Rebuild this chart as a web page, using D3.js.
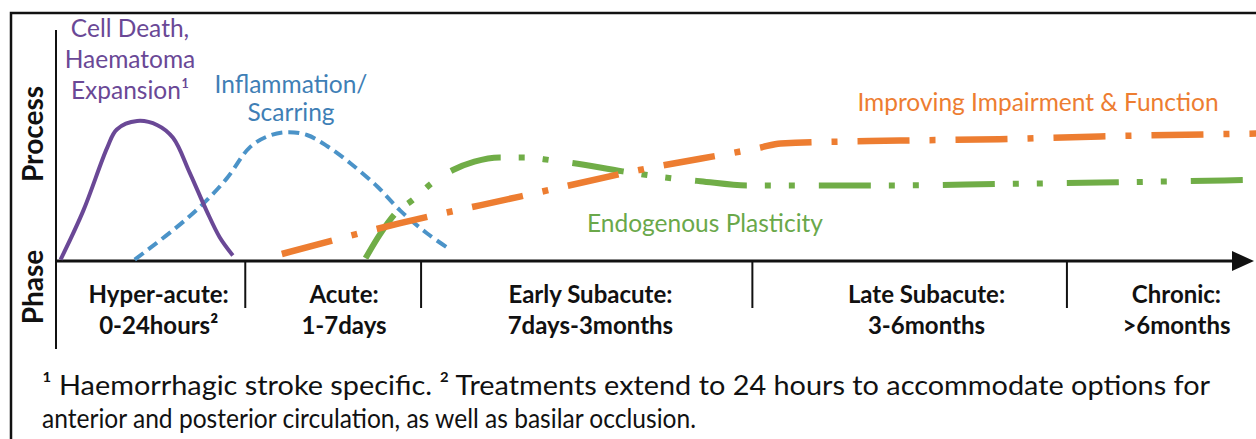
<!DOCTYPE html>
<html lang="en">
  <head>
    <meta charset="utf-8">
    <title>Stroke recovery phases</title>
    <script src="https://d3js.org/d3.v7.min.js"></script>
    <style>
      body { margin: 0; background: #fff; }
      text { font-family: Lato, "Open Sans", sans-serif; }
    </style>
  </head>
  <body>
    <script>

      // timeline position in % of the axis, level 0-100
      var cellDeathT     = [0.3, 2.2, 4.2, 5.0, 6.7, 8.4, 9.7, 11.1, 12.5, 13.6, 14.7];
      var cellDeathLevel = [1, 36, 81, 94, 100, 97, 88, 63, 36, 17, 4];

      var inflamT     = [6.5, 9.7, 12.0, 14.2, 16.1, 17.6, 19.2, 20.9, 22.6, 24.5, 26.8, 28.7, 30.9, 32.9];
      var inflamLevel = [1, 22, 39, 59, 81, 89, 92, 90, 82, 70, 53, 36, 20, 8];

      var plasticityT     = [25.8, 27.0, 28.3, 29.8, 31.4, 33.1, 34.9, 37.0, 39.1, 41.3, 43.1, 47.3, 51.5, 53.8, 57.7, 62.1, 70.5, 78.8, 87.2, 100.3];
      var plasticityLevel = [2, 19, 34, 44, 56, 65, 71, 74, 74, 72, 70, 64, 59, 57, 54, 54, 54, 55, 56, 58];

      var functionT     = [18.8, 28.7, 38.7, 48.7, 58.8, 60.5, 70.5, 78.8, 87.2, 100.3];
      var functionLevel = [5, 27, 46, 65, 81, 84, 86, 87, 89, 91];

      var phaseNames  = ["Hyper-acute:", "Acute:", "Early Subacute:", "Late Subacute:", "Chronic:"];
      var phaseRanges = ["0-24hours\u00B2", "1-7days", "7days-3months", "3-6months", ">6months"];
      var phaseCenters = [8.5, 24.0, 44.6, 72.7, 93.6];
      var phaseBreaks  = [15.7, 30.4, 58.1, 84.4];

      var w = 1256, h = 439;
      var x = d3.scaleLinear().domain([0, 100]).range([57, 1253]);
      var y = d3.scaleLinear().domain([0, 100]).range([261, 121]);

      var svg = d3.select("body").append("svg")
        .attr("width", w)
        .attr("height", h);

      // frame (right and bottom edges are cropped)
      svg.append("path")
        .attr("d", "M11," + h + "V13H" + w)
        .attr("fill", "none")
        .attr("stroke", "#111")
        .attr("stroke-width", 2.5);

      // vertical axis
      svg.append("line")
        .attr("x1", x(0) - 1).attr("x2", x(0) - 1)
        .attr("y1", 30).attr("y2", 349)
        .attr("stroke", "#111")
        .attr("stroke-width", 2);

      // phase dividers
      var xAxis = d3.axisBottom(x)
        .tickValues(phaseBreaks)
        .tickSizeInner(47)
        .tickSizeOuter(0)
        .tickFormat(function () { return ""; });

      var gx = svg.append("g")
        .attr("transform", "translate(0," + y(0) + ")")
        .call(xAxis);
      gx.select(".domain").remove();
      gx.selectAll(".tick line").attr("stroke", "#111").attr("stroke-width", 2);

      // time axis with arrow
      svg.append("line")
        .attr("x1", x(0) - 2).attr("x2", x(100) - 18)
        .attr("y1", y(0)).attr("y2", y(0))
        .attr("stroke", "#111")
        .attr("stroke-width", 3);
      svg.append("path")
        .attr("d", "M" + (x(100) - 21) + "," + (y(0) - 10) + "L" + (x(100) + 1) + "," + y(0) + "L" + (x(100) - 21) + "," + (y(0) + 10) + "Z")
        .attr("fill", "#111");

      var line = d3.line()
        .x(function (d) { return x(d[0]); })
        .y(function (d) { return y(d[1]); })
        .curve(d3.curveMonotoneX);

      var smooth = d3.line()
        .x(function (d) { return x(d[0]); })
        .y(function (d) { return y(d[1]); })
        .curve(d3.curveCatmullRom.alpha(0.5));

      svg.append("path")
        .attr("d", smooth(d3.zip(inflamT, inflamLevel)))
        .attr("fill", "none")
        .attr("stroke", "#4b93c8")
        .attr("stroke-width", 4)
        .attr("stroke-dasharray", "11,6");

      svg.append("path")
        .attr("d", smooth(d3.zip(cellDeathT, cellDeathLevel)))
        .attr("fill", "none")
        .attr("stroke", "#6a4896")
        .attr("stroke-width", 4);

      svg.append("path")
        .attr("d", line(d3.zip(plasticityT, plasticityLevel)))
        .attr("fill", "none")
        .attr("stroke", "#70ad47")
        .attr("stroke-width", 6)
        .attr("stroke-dasharray", "52,18,6,18,6,24");

      svg.append("path")
        .attr("d", line(d3.zip(functionT, functionLevel)))
        .attr("fill", "none")
        .attr("stroke", "#ed7d31")
        .attr("stroke-width", 6.5)
        .attr("stroke-dasharray", "52,20,6,20");

      // curve labels
      function block(lines, cx, y0, step, color) {
        var t = svg.append("text")
          .attr("text-anchor", "middle")
          .attr("font-size", 24.5)
          .attr("fill", color);
        lines.forEach(function (s, i) {
          t.append("tspan").attr("x", cx).attr("y", y0 + i * step).text(s);
        });
      }
      block(["Cell Death,", "Haematoma", "Expansion\u00B9"], 130, 37, 31, "#6a4896");
      block(["Inflammation/", "Scarring"], 291, 93, 28, "#3f7fb6");
      block(["Improving Impairment & Function"], 1038, 111, 0, "#ed7d31");
      block(["Endogenous Plasticity"], 705, 232, 0, "#6aa84a");

      // axis titles
      svg.append("text")
        .attr("transform", "translate(43,134) rotate(-90)")
        .attr("text-anchor", "middle")
        .attr("font-size", 28)
        .attr("font-weight", "bold")
        .attr("fill", "#111")
        .text("Process");
      svg.append("text")
        .attr("transform", "translate(43,287) rotate(-90)")
        .attr("text-anchor", "middle")
        .attr("font-size", 28)
        .attr("font-weight", "bold")
        .attr("fill", "#111")
        .text("Phase");

      // phase labels
      var ph = svg.selectAll(".phase")
        .data(d3.zip(phaseCenters, phaseNames, phaseRanges))
        .enter().append("text")
        .attr("class", "phase")
        .attr("text-anchor", "middle")
        .attr("font-size", 24)
        .attr("font-weight", "bold")
        .attr("fill", "#111");
      ph.append("tspan").attr("x", d => x(d[0])).attr("y", 303).text(d => d[1]);
      ph.append("tspan").attr("x", d => x(d[0])).attr("y", 334).text(d => d[2]);

      // footnote
      var notes = ["\u00B9 Haemorrhagic stroke specific. \u00B2 Treatments extend to 24 hours to accommodate options for",
                   "anterior and posterior circulation, as well as basilar occlusion."];
      var noteWidths = [1168, 654];
      svg.selectAll(".note")
        .data(notes)
        .enter().append("text")
        .attr("class", "note")
        .attr("x", 42)
        .attr("y", (d, i) => 395 + i * 33)
        .attr("font-size", 27)
        .attr("fill", "#111")
        .attr("textLength", (d, i) => noteWidths[i])
        .attr("lengthAdjust", "spacingAndGlyphs")
        .text(d => d);

    </script>
  </body>
</html>
